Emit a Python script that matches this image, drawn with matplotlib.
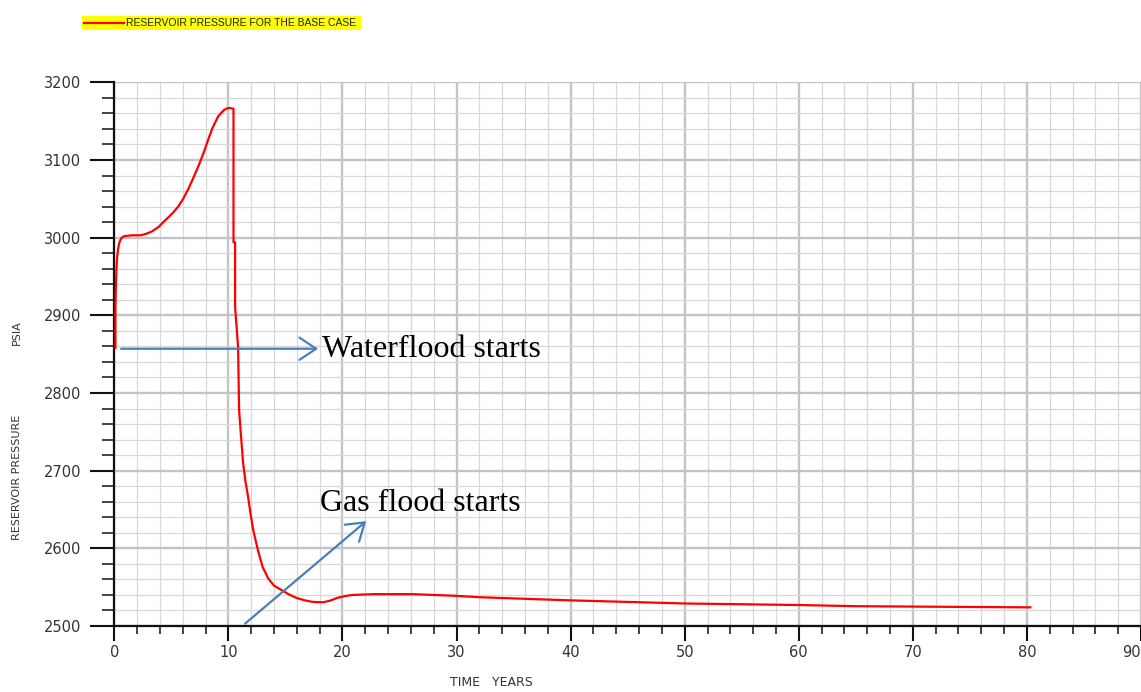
import matplotlib.pyplot as plt
from matplotlib.lines import Line2D
from matplotlib.patches import Rectangle
from matplotlib.ticker import MultipleLocator

# base case reservoir pressure history
years = [0.1, 0.1, 0.15, 0.2, 0.25, 0.33, 0.4, 0.5, 0.6, 0.75, 0.9, 1.5, 2.3, 2.8,
         3.3, 3.9, 4.3, 4.8, 5.2, 5.6, 6.0, 6.5, 6.9, 7.4, 7.8, 8.3, 8.6, 8.9, 9.1,
         9.4, 9.6, 9.8, 10.1, 10.45, 10.45, 10.59, 10.59, 10.85, 10.94, 11.11,
         11.29, 11.5, 11.73, 11.95, 12.17, 12.6, 13.0, 13.5, 14.0, 14.8, 15.4,
         16.0, 16.7, 17.4, 18.3, 19.0, 19.5, 20.2, 20.9, 22.7, 26.2, 29.7, 32.1,
         36.0, 40.0, 45.0, 50.0, 55.0, 60.0, 65.0, 70.0, 75.0, 80.3]
pressure = [2858, 2911, 2945, 2962, 2975, 2985, 2991, 2996, 2999, 3001, 3002, 3003,
            3003, 3005, 3008, 3014, 3020, 3027, 3033, 3040, 3049, 3063, 3076, 3093,
            3108, 3129, 3141, 3150, 3156, 3161, 3164, 3166, 3167, 3166, 2994, 2994,
            2911, 2859, 2778, 2744, 2710, 2686, 2666, 2644, 2624, 2597, 2576, 2561,
            2552, 2545, 2540, 2536, 2533, 2531, 2530.5, 2533, 2536, 2538.5, 2540,
            2541, 2541, 2539, 2537, 2535, 2533, 2531, 2529, 2528, 2527, 2525.5,
            2525, 2524.5, 2524]

x_ticks = list(range(0, 91, 10))
y_ticks = list(range(2500, 3201, 100))

# arrow annotations: (text, text position, arrow tail, arrow head)
water_label = "Waterflood starts"
water_text_at = (18.22, 2846.5)
water_arrow = ((0.59, 2857), (17.87, 2857))
gas_label = "Gas flood starts"
gas_text_at = (18.04, 2648)
gas_arrow = ((11.46, 2503), (22.08, 2635))

W, H = 1141, 692
fig = plt.figure(figsize=(W / 100, H / 100), dpi=100)
ax = fig.add_axes([114.3 / W, 1 - 626 / H, 1 - 114.3 / W, (626 - 82.3) / H])

ax.set_xlim(0, 90)
ax.set_ylim(2500, 3200)
ax.set_xticks(x_ticks)
ax.set_yticks(y_ticks)
ax.xaxis.set_minor_locator(MultipleLocator(2))
ax.yaxis.set_minor_locator(MultipleLocator(20))

ax.grid(which="minor", color="#d8d8d8", lw=0.9)
ax.grid(which="major", color="#c4c4c4", lw=1.7)
ax.set_axisbelow(True)

for side in ("top", "right"):
    ax.spines[side].set_visible(False)
for side in ("left", "bottom"):
    ax.spines[side].set_color("#111111")
    ax.spines[side].set_linewidth(1.6)

ax.tick_params(axis="y", which="major", length=17, width=1.5, pad=7,
               labelsize=10.5, labelcolor="#333333", color="#111111")
ax.tick_params(axis="y", which="minor", length=9, width=1.1, color="#111111")
ax.tick_params(axis="x", which="major", length=10.5, width=1.5, pad=3,
               labelsize=10.5, labelcolor="#333333", color="#111111")
ax.tick_params(axis="x", which="minor", length=5.5, width=1.1, color="#111111")
ax.get_xticklabels()[-1].set_horizontalalignment("right")

ax.plot(years, pressure, color="red", lw=1.6, clip_on=False, zorder=3)

arrow_props = dict(arrowstyle="->,head_length=0.6,head_width=0.4", color="#4a7ebb",
                   lw=1.6, mutation_scale=20, shrinkA=0, shrinkB=0)
ax.annotate("", xy=water_arrow[1], xytext=water_arrow[0], arrowprops=arrow_props, zorder=4)
ax.annotate("", xy=gas_arrow[1], xytext=gas_arrow[0], arrowprops=arrow_props, zorder=4)
ax.text(*water_text_at, water_label, family="Liberation Serif", fontsize=23,
        ha="left", va="baseline", zorder=5)
ax.text(*gas_text_at, gas_label, family="Liberation Serif", fontsize=23,
        ha="left", va="baseline", zorder=5)

# axis titles
fig.text(17 / W, 1 - 477.5 / H, "RESERVOIR PRESSURE", rotation=90, fontsize=8,
         color="#333333", ha="center", va="center")
fig.text(17 / W, 1 - 333 / H, "PSIA", rotation=90, fontsize=8,
         color="#333333", ha="center", va="center")
fig.text(450 / W, 1 - 683 / H, "TIME   YEARS", fontsize=9, color="#333333",
         ha="left", va="center")

# legend strip
fig.patches.append(Rectangle((82 / W, 1 - 30 / H), (361 - 82) / W, 14 / H,
                             transform=fig.transFigure, facecolor="#ffff00",
                             edgecolor="none"))
fig.lines.append(Line2D([84 / W, 124 / W], [1 - 22.5 / H, 1 - 22.5 / H],
                        transform=fig.transFigure, color="red", lw=1.6))
fig.text(126 / W, 1 - 23 / H, "RESERVOIR PRESSURE FOR THE BASE CASE",
         family="Liberation Sans", fontsize=7.5, color="#222222", ha="left", va="center")

fig.savefig("out.png", dpi=100)
